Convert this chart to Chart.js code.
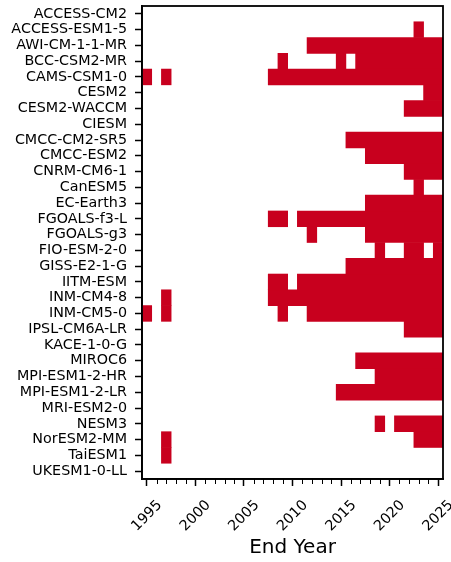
<!DOCTYPE html>
<html>
<head>
<meta charset="utf-8">
<script src="https://cdn.jsdelivr.net/npm/chart.js@4.4.1/dist/chart.umd.min.js"></script>
<style>
    html, body { margin: 0; padding: 0; background: #fff; }
    #wrap { width: 451px; height: 562px; }
</style>
</head>
<body>
<div id="wrap"><canvas id="endYearChart" width="451" height="562"></canvas></div>
<script>
// Models, top to bottom
var models = [
    'ACCESS-CM2', 'ACCESS-ESM1-5', 'AWI-CM-1-1-MR', 'BCC-CSM2-MR', 'CAMS-CSM1-0',
    'CESM2', 'CESM2-WACCM', 'CIESM', 'CMCC-CM2-SR5', 'CMCC-ESM2',
    'CNRM-CM6-1', 'CanESM5', 'EC-Earth3', 'FGOALS-f3-L', 'FGOALS-g3',
    'FIO-ESM-2-0', 'GISS-E2-1-G', 'IITM-ESM', 'INM-CM4-8', 'INM-CM5-0',
    'IPSL-CM6A-LR', 'KACE-1-0-G', 'MIROC6', 'MPI-ESM1-2-HR', 'MPI-ESM1-2-LR',
    'MRI-ESM2-0', 'NESM3', 'NorESM2-MM', 'TaiESM1', 'UKESM1-0-LL'
];

// Red end-year spans for each model: [first year, last year]
var redSpans = [
    [],
    [[2023, 2023]],
    [[2012, 2025]],
    [[2009, 2009], [2015, 2015], [2017, 2025]],
    [[1995, 1995], [1997, 1997], [2008, 2025]],
    [[2024, 2025]],
    [[2022, 2025]],
    [],
    [[2016, 2025]],
    [[2018, 2025]],
    [[2022, 2025]],
    [[2023, 2023]],
    [[2018, 2025]],
    [[2008, 2009], [2011, 2025]],
    [[2012, 2012], [2018, 2025]],
    [[2019, 2019], [2022, 2023], [2025, 2025]],
    [[2016, 2025]],
    [[2008, 2009], [2011, 2025]],
    [[1997, 1997], [2008, 2025]],
    [[1995, 1995], [1997, 1997], [2009, 2009], [2012, 2025]],
    [[2022, 2025]],
    [],
    [[2017, 2025]],
    [[2019, 2025]],
    [[2015, 2025]],
    [],
    [[2019, 2019], [2021, 2025]],
    [[1997, 1997], [2023, 2025]],
    [[1997, 1997]],
    []
];

// Year columns and labelled ticks
var firstYear = 1995;
var lastYear = 2025;
var yearTicks = [1995, 2000, 2005, 2010, 2015, 2020, 2025];

var red = '#c8001e';
var fontName = "'DejaVu Sans', sans-serif";

// one dataset per span slot, bars overlap in the same row
var maxSpans = Math.max.apply(null, redSpans.map(function(s) { return s.length; }));
var datasets = [];
for (var k = 0; k < maxSpans; k++) {
    datasets.push({
        data: redSpans.map(function(s) {
            return s[k] ? [s[k][0] - 0.5, s[k][1] + 0.5] : null;
        }),
        backgroundColor: red,
        borderWidth: 0,
        barPercentage: 1,
        categoryPercentage: 1,
        grouped: false
    });
}

var allYears = [];
for (var y = firstYear; y <= lastYear; y++) allYears.push(y);

// frame around plot + short minor ticks every year
var framePlugin = {
    id: 'frame',
    afterDraw: function(chart) {
        var ctx = chart.ctx, a = chart.chartArea, xs = chart.scales.x;
        ctx.save();
        ctx.strokeStyle = '#000';
        ctx.lineWidth = 1;
        allYears.forEach(function(yr) {
            if (yearTicks.indexOf(yr) >= 0) return;
            var px = Math.round(xs.getPixelForValue(yr)) + 0.5;
            ctx.beginPath();
            ctx.moveTo(px, a.bottom);
            ctx.lineTo(px, a.bottom + 5);
            ctx.stroke();
        });
        ctx.lineWidth = 1.8;
        ctx.strokeRect(a.left, a.top, a.right - a.left, a.bottom - a.top);
        ctx.restore();
    }
};

function noScalePadding(scale) {
    scale.paddingTop = 0;
    scale.paddingBottom = 0;
    scale.paddingLeft = 0;
    scale.paddingRight = 0;
}

var chart = new Chart(document.getElementById('endYearChart').getContext('2d'), {
    type: 'bar',
    data: { labels: models, datasets: datasets },
    options: {
        indexAxis: 'y',
        responsive: false,
        animation: false,
        layout: { padding: { top: 6, right: 8, left: 0, bottom: 0 } },
        plugins: { legend: { display: false }, tooltip: { enabled: false } },
        scales: {
            x: {
                type: 'linear',
                min: firstYear - 0.5,
                max: lastYear + 0.5,
                afterBuildTicks: function(scale) {
                    scale.ticks = allYears.map(function(v) { return { value: v }; });
                },
                afterFit: function(scale) { scale.height = 83; noScalePadding(scale); },
                ticks: {
                    autoSkip: false,
                    minRotation: 45,
                    maxRotation: 45,
                    labelOffset: 13,
                    padding: 11,
                    color: '#000',
                    font: { family: fontName, size: 14.3 },
                    callback: function(v) { return yearTicks.indexOf(v) >= 0 ? String(v) : ''; }
                },
                grid: {
                    drawOnChartArea: false,
                    tickLength: 7,
                    tickWidth: 1.5,
                    tickColor: function(c) {
                        return c.tick && yearTicks.indexOf(c.tick.value) >= 0 ? '#000' : 'rgba(0,0,0,0)';
                    }
                },
                border: { color: '#000', width: 1.8 },
                title: {
                    display: true,
                    text: 'End Year',
                    color: '#000',
                    font: { family: fontName, size: 20 },
                    padding: { top: 2, bottom: 2 }
                }
            },
            y: {
                afterFit: function(scale) { scale.width = 142; noScalePadding(scale); },
                ticks: {
                    autoSkip: false,
                    padding: 8,
                    color: '#000',
                    font: { family: fontName, size: 14.3 }
                },
                grid: {
                    drawOnChartArea: false,
                    offset: false,
                    tickLength: 7,
                    tickWidth: 1.5,
                    tickColor: '#000'
                },
                border: { color: '#000', width: 1.8 }
            }
        }
    },
    plugins: [framePlugin]
});
</script>
</body>
</html>
